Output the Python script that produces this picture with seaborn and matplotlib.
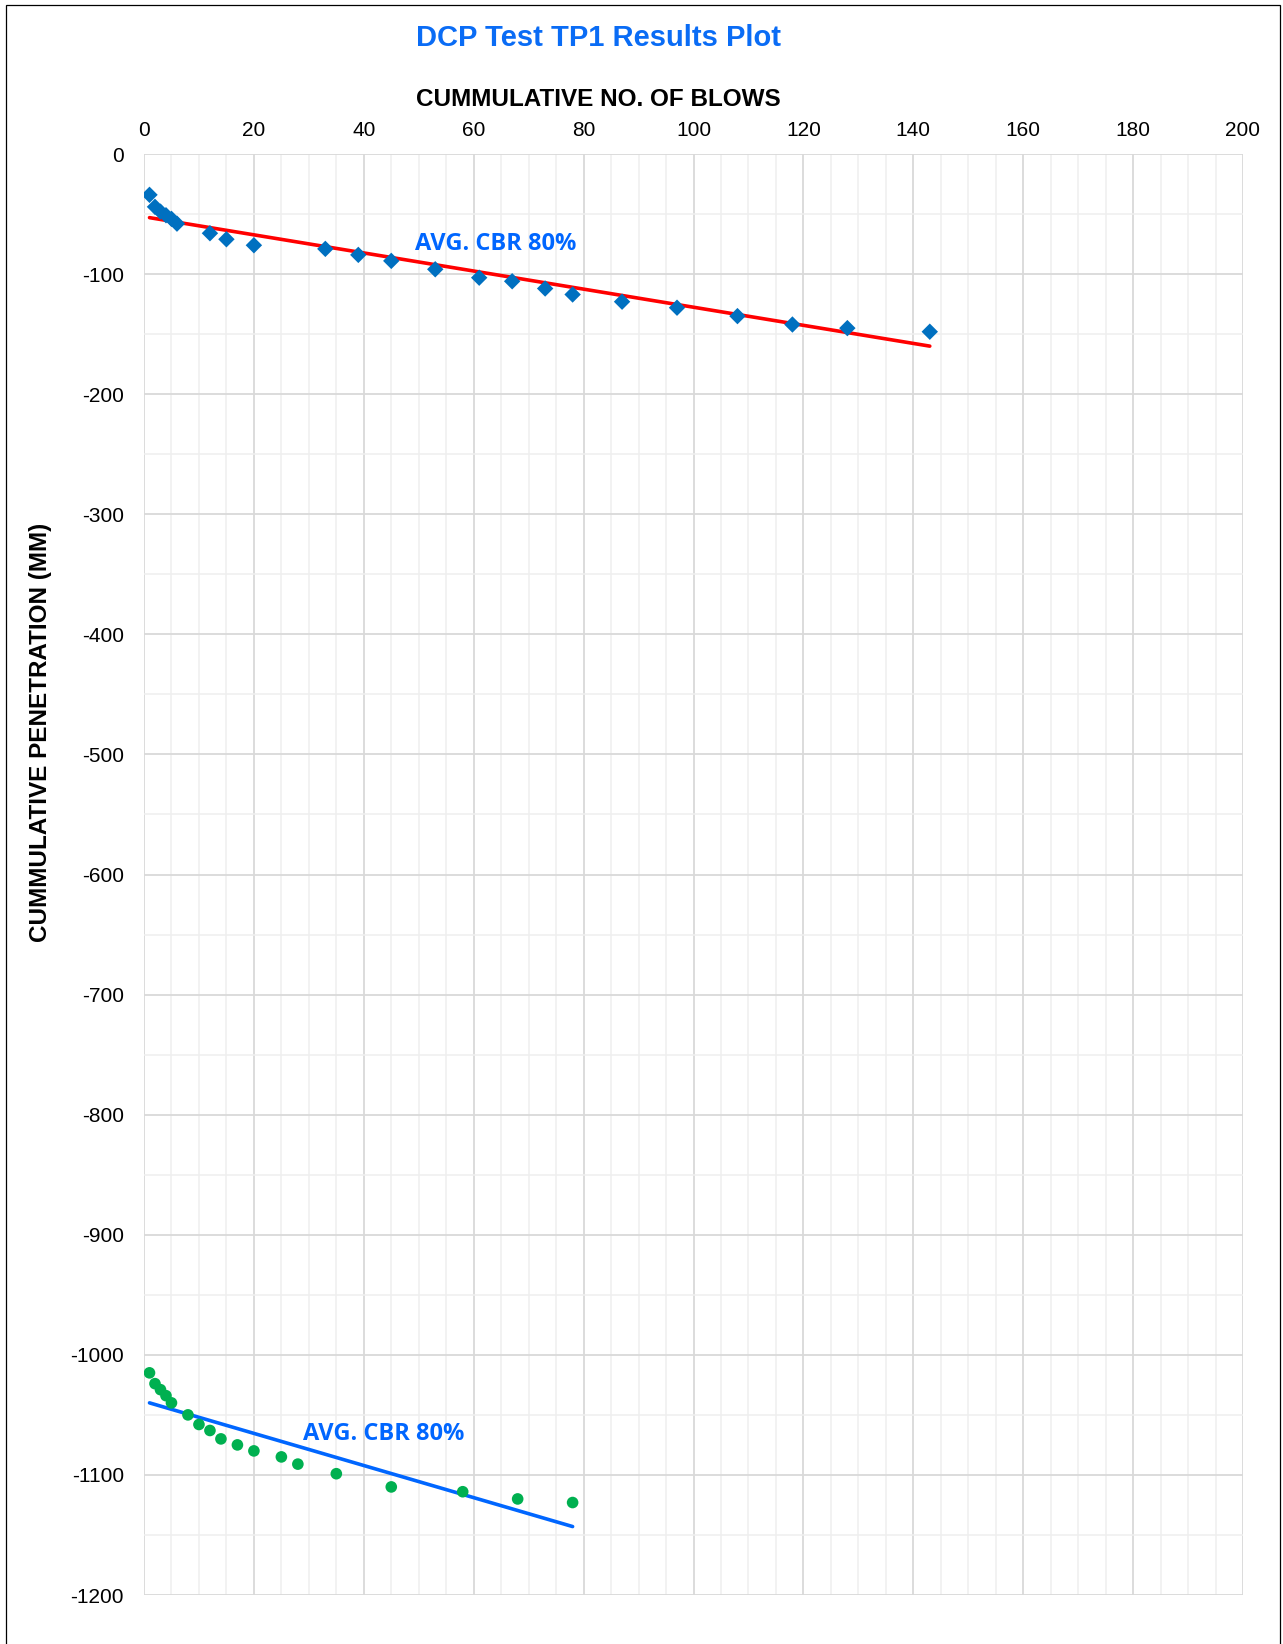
import numpy as np
import pandas as pd
import matplotlib
matplotlib.use("Agg")
import matplotlib.pyplot as plt
import seaborn as sns
from matplotlib.patches import Rectangle
from matplotlib.ticker import MultipleLocator

# upper test series (blue diamonds)
blows_top = [1, 2, 3, 4, 5, 6, 12, 15, 20, 33, 39, 45, 53, 61, 67, 73, 78, 87, 97, 108, 118, 128, 143]
pen_top = [-34, -44, -48, -51, -54, -58, -66, -71, -76, -79, -84, -89, -96, -103, -106, -112, -117,
           -123, -128, -135, -142, -145, -148]

# lower test series (green circles)
blows_bot = [1, 2, 3, 4, 5, 8, 10, 12, 14, 17, 20, 25, 28, 35, 45, 58, 68, 78]
pen_bot = [-1015, -1024, -1029, -1034, -1040, -1050, -1058, -1063, -1070, -1075, -1080, -1085,
           -1091, -1099, -1110, -1114, -1120, -1123]

# average trend lines (end points)
trend_top_x = [1, 143]
trend_top_y = [-53, -160]
trend_bot_x = [1, 78]
trend_bot_y = [-1040, -1143]

sns.set_style("white")
plt.rcParams['font.family'] = ['Liberation Sans', 'DejaVu Sans']
plt.rcParams['axes.unicode_minus'] = False

W, H = 1283, 1644
fig = plt.figure(figsize=(W / 100, H / 100), dpi=100)
ax = fig.add_axes([144 / W, 1 - 1595 / H, (1243 - 144) / W, (1595 - 154) / H])

df_top = pd.DataFrame({'x': blows_top, 'y': pen_top})
df_bot = pd.DataFrame({'x': blows_bot, 'y': pen_bot})

sns.lineplot(x=trend_top_x, y=trend_top_y, color='#FF0000', lw=2.6, ax=ax, zorder=3)
sns.lineplot(x=trend_bot_x, y=trend_bot_y, color='#0066FF', lw=2.6, ax=ax, zorder=3)
sns.scatterplot(data=df_top, x='x', y='y', marker='D', s=70, color='#0070C0',
                edgecolor='none', ax=ax, zorder=4)
sns.scatterplot(data=df_bot, x='x', y='y', marker='o', s=70, color='#00B050',
                edgecolor='none', ax=ax, zorder=4)

ax.text(49.3, -75, 'AVG. CBR 80%', color='#0066FF', fontsize=17, fontweight='bold',
        family=['Open Sans', 'DejaVu Sans'], va='center', ha='left')
ax.text(28.9, -1066, 'AVG. CBR 80%', color='#0066FF', fontsize=17, fontweight='bold',
        family=['Open Sans', 'DejaVu Sans'], va='center', ha='left')

ax.set_xlim(0, 200)
ax.set_ylim(-1200, 0)
ax.xaxis.set_major_locator(MultipleLocator(20))
ax.xaxis.set_minor_locator(MultipleLocator(5))
ax.yaxis.set_major_locator(MultipleLocator(100))
ax.yaxis.set_minor_locator(MultipleLocator(50))
ax.grid(which='major', color='#D9D9D9', lw=1.3)
ax.grid(which='minor', color='#EFEFEF', lw=1.1)
ax.set_axisbelow(True)
for sp in ax.spines.values():
    sp.set_visible(False)

ax.xaxis.tick_top()
ax.tick_params(axis='both', which='both', length=0, labelsize=15, colors='black')
ax.tick_params(axis='x', pad=10.3)
ax.tick_params(axis='y', pad=14.5)
ax.set_xlabel('')
ax.set_ylabel('')

fig.text(598 / W, 1 - 38 / H, 'DCP Test TP1 Results Plot', color='#0A6CF5', fontsize=21,
         fontweight='bold', ha='center', va='center')
fig.text(598 / W, 1 - 99 / H, 'CUMMULATIVE NO. OF BLOWS', color='black', fontsize=17.5,
         fontweight='bold', ha='center', va='center')
fig.text(41 / W, 1 - 732 / H, 'CUMMULATIVE PENETRATION (MM)', color='black', fontsize=17.5,
         fontweight='bold', ha='center', va='center', rotation=90)

# chart area frame
fig.patches.append(Rectangle((6 / W, -0.05), (1280 - 6) / W, 1.05 - 5 / H, transform=fig.transFigure,
                             fill=False, edgecolor='black', lw=0.9))

fig.savefig('out.png', dpi=100, facecolor='white')
